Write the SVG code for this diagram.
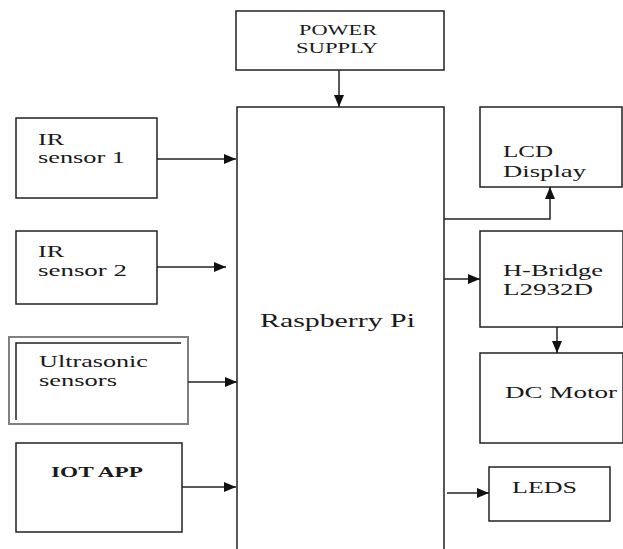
<svg xmlns="http://www.w3.org/2000/svg" width="623" height="549" viewBox="0 0 623 549">
<style>
.t{font-family:"Liberation Serif","Times New Roman","DejaVu Serif",serif;fill:#1a1a1a}
.box{fill:#fff;stroke:#222;stroke-width:1.5}
.c{fill:none;stroke:#222;stroke-width:1.5}
</style>
<defs>
<marker id="ah" markerUnits="userSpaceOnUse" markerWidth="12" markerHeight="10" refX="12" refY="5" orient="auto">
<path d="M0,0 L12,5 L0,10 Z" fill="#111"/>
</marker>
</defs>
<rect width="623" height="549" fill="#fff"/>
<g id="power">
<rect class="box" x="236" y="11" width="208" height="59"/>
<text class="t" x="299" y="35" font-size="15" textLength="78" lengthAdjust="spacingAndGlyphs">POWER</text>
<text class="t" x="296" y="53" font-size="15" textLength="82" lengthAdjust="spacingAndGlyphs">SUPPLY</text>
</g>
<g id="raspberry">
<path class="box" d="M237,549 V107 H444 V549" fill="none"/>
<text class="t" x="260" y="327" font-size="18" textLength="155" lengthAdjust="spacingAndGlyphs">Raspberry Pi</text>
</g>
<g id="ir1">
<rect class="box" x="16" y="118" width="141" height="80"/>
<text class="t" x="38" y="145" font-size="17" textLength="26" lengthAdjust="spacingAndGlyphs">IR</text>
<text class="t" x="38" y="163" font-size="17" textLength="87" lengthAdjust="spacingAndGlyphs">sensor 1</text>
</g>
<g id="ir2">
<rect class="box" x="16" y="231" width="141" height="73"/>
<text class="t" x="38" y="257" font-size="17" textLength="26" lengthAdjust="spacingAndGlyphs">IR</text>
<text class="t" x="38" y="276" font-size="17" textLength="89" lengthAdjust="spacingAndGlyphs">sensor 2</text>
</g>
<g id="ultrasonic">
<rect x="9" y="337" width="179" height="87" fill="#fff" stroke="#808080" stroke-width="2"/>
<path d="M181,343 H16 V420" fill="none" stroke="#222" stroke-width="1.5"/>
<text class="t" x="39" y="367" font-size="17" textLength="109" lengthAdjust="spacingAndGlyphs">Ultrasonic</text>
<text class="t" x="39" y="386" font-size="17" textLength="78" lengthAdjust="spacingAndGlyphs">sensors</text>
</g>
<g id="iot">
<rect class="box" x="16" y="443" width="166" height="89"/>
<text class="t" x="51" y="477" font-weight="bold" font-size="15" textLength="92" lengthAdjust="spacingAndGlyphs" fill="#333">IOT APP</text>
</g>
<g id="lcd">
<rect class="box" x="480" y="107" width="142" height="80"/>
<text class="t" x="503" y="157" font-size="17" textLength="50" lengthAdjust="spacingAndGlyphs">LCD</text>
<text class="t" x="503" y="177" font-size="17" textLength="83" lengthAdjust="spacingAndGlyphs">Display</text>
</g>
<g id="hbridge">
<rect class="box" x="480" y="231" width="143" height="96"/>
<text class="t" x="503" y="276" font-size="17" textLength="100" lengthAdjust="spacingAndGlyphs">H-Bridge</text>
<text class="t" x="503" y="295" font-size="17" textLength="90" lengthAdjust="spacingAndGlyphs">L2932D</text>
</g>
<g id="dcmotor">
<rect class="box" x="480" y="353" width="143" height="90"/>
<text class="t" x="505" y="398" font-size="16" textLength="112" lengthAdjust="spacingAndGlyphs">DC Motor</text>
</g>
<g id="leds">
<rect class="box" x="489" y="467" width="121" height="54"/>
<text class="t" x="512" y="493" font-size="17" textLength="65" lengthAdjust="spacingAndGlyphs">LEDS</text>
</g>
<g id="connectors">
<path class="c" d="M339,70 V107" marker-end="url(#ah)"/>
<path class="c" d="M157,159 H236" marker-end="url(#ah)"/>
<path class="c" d="M157,267 H226" marker-end="url(#ah)"/>
<path class="c" d="M188,382 H237" marker-end="url(#ah)"/>
<path class="c" d="M182,487 H236" marker-end="url(#ah)"/>
<path class="c" d="M444,219 H550 V187" marker-end="url(#ah)"/>
<path class="c" d="M444,279 H480" marker-end="url(#ah)"/>
<path class="c" d="M557,327 V353" marker-end="url(#ah)"/>
<path class="c" d="M447,493 H489" marker-end="url(#ah)"/>
</g>
</svg>
